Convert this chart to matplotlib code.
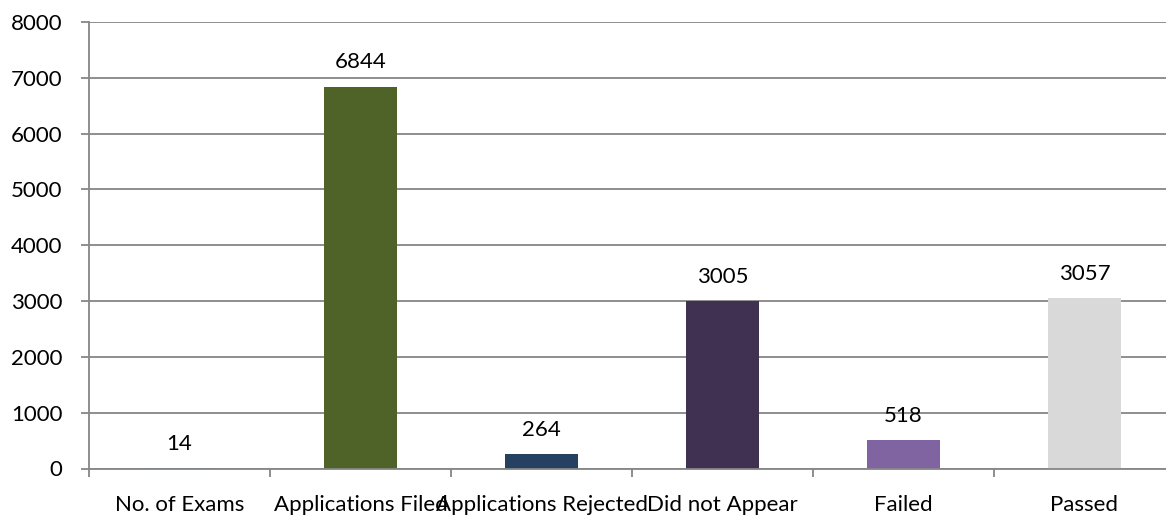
import matplotlib
matplotlib.use("Agg")
import matplotlib.pyplot as plt

# 考试统计数据
categories = ["No. of Exams", "Applications Filed", "Applications Rejected",
              "Did not Appear", "Failed", "Passed"]
counts = [14, 6844, 264, 3005, 518, 3057]
bar_colors = ["#4F81BD", "#4F6228", "#254061", "#403152", "#8064A2", "#D9D9D9"]
y_ticks = [0, 1000, 2000, 3000, 4000, 5000, 6000, 7000, 8000]

plt.rcParams['font.family'] = ['Lato', 'DejaVu Sans']
grid_color = "#868686"

fig = plt.figure(figsize=(11.66, 5.19), dpi=100)
# 右边超出画布一点，最后一列被裁掉
ax = fig.add_axes([89 / 1166, (519 - 468.5) / 519, 1086 / 1166, 446.5 / 519])
ax.set_axisbelow(True)

x = range(len(categories))
bars = ax.bar(x, counts, width=0.4, color=bar_colors, zorder=2)

# 柱顶数值标签
for xi, v in zip(x, counts):
    ax.annotate(str(v), (xi, v), xytext=(0, 13), textcoords="offset points",
                ha="center", va="baseline", fontsize=16, color="black")

ax.set_xlim(-0.5, len(categories) - 0.5)
ax.set_ylim(0, 8000)
ax.set_yticks(y_ticks)
ax.set_yticklabels([str(t) for t in y_ticks], fontsize=16)

# 类别标签放在中间，刻度线放在分界处
ax.set_xticks(list(x))
ax.set_xticklabels(categories, fontsize=16)
ax.set_xticks([i - 0.5 for i in range(len(categories) + 1)], minor=True)
ax.tick_params(axis='x', which='major', length=0, pad=19)
ax.tick_params(axis='x', which='minor', length=6, width=1.3, color=grid_color)
ax.tick_params(axis='y', length=6, width=1.3, color=grid_color, pad=13)

ax.grid(axis='y', color=grid_color, linewidth=1.3)
for side in ['top', 'right']:
    ax.spines[side].set_visible(False)
for side in ['left', 'bottom']:
    ax.spines[side].set_color(grid_color)
    ax.spines[side].set_linewidth(1.3)
    ax.spines[side].set_zorder(3)

fig.savefig("out.png", dpi=100)
